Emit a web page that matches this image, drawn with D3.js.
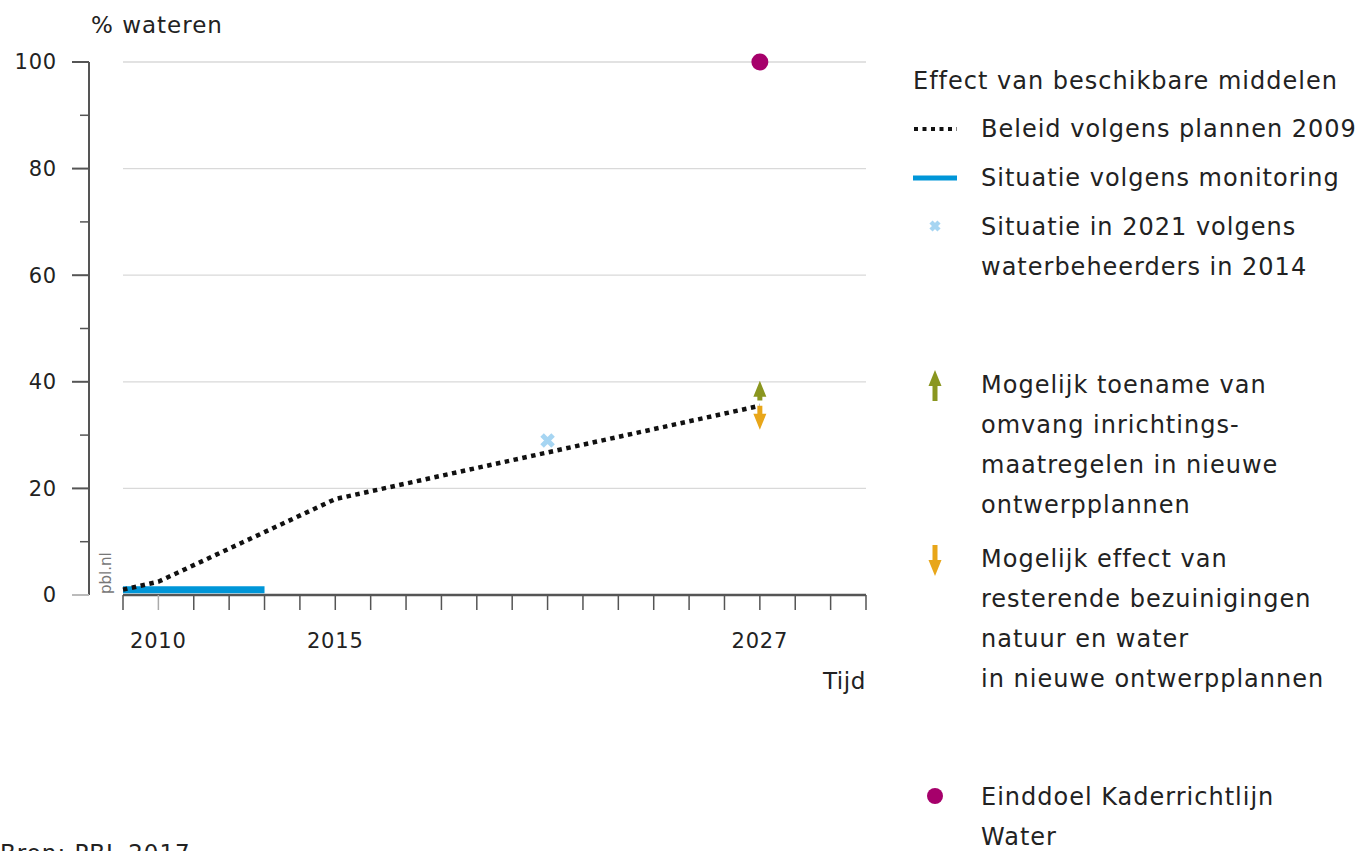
<!DOCTYPE html>
<html><head><meta charset="utf-8">
<script src="https://cdn.jsdelivr.net/npm/d3@7"></script>
<style>body{margin:0;background:#fff}svg{display:block}text{font-family:"DejaVu Sans",sans-serif;fill:#222}</style>
</head><body><svg id="c" width="1361" height="851"></svg>
<script>
// data
const policyYears = [2009, 2010, 2015, 2027];
const policyValues = [1, 2.5, 18, 35.5];
const monitorYears = [2009, 2013];
const monitorValues = [1, 1];
const managerYear = [2021];
const managerValue = [29];
const upArrow = [36.5, 40.2];      // 2027: possible increase
const downArrow = [35.5, 31];    // 2027: possible effect of cuts
const goalYear = [2027];
const goalValue = [100];
const arrowYear = 2027;
const yTicks = [0, 20, 40, 60, 80, 100];
const yMinor = [10, 30, 50, 70, 90];
const xLabelYears = [2010, 2015, 2027];
const xTickYears = d3.range(2009, 2031);
const legendTitle = "Effect van beschikbare middelen";
const legendItems = [
  {type: "dots", lines: ["Beleid volgens plannen 2009"]},
  {type: "line", lines: ["Situatie volgens monitoring"]},
  {type: "cross", lines: ["Situatie in 2021 volgens", "waterbeheerders in 2014"]},
  {type: "up", lines: ["Mogelijk toename van", "omvang inrichtings-", "maatregelen in nieuwe", "ontwerpplannen"]},
  {type: "down", lines: ["Mogelijk effect van", "resterende bezuinigingen", "natuur en water", "in nieuwe ontwerpplannen"]},
  {type: "dot", lines: ["Einddoel Kaderrichtlijn", "Water"]}
];
const legendY = [129, 178, 227, 385, 559, 797];

const C = {dots:"#111", blue:"#0096d8", cross:"#a6d5f2", green:"#8a961f", orange:"#e8a619", purple:"#a6006b", axis:"#555", grid:"#d9d9d9"};
const FS = "24px", LS = "1px";
const svg = d3.select("#c");
const x = d3.scaleLinear().domain([2009, 2030]).range([123, 866]);
const y = d3.scaleLinear().domain([0, 100]).range([595, 62]);

// grid
svg.append("g").selectAll("line").data(yTicks.filter(d=>d>0)).join("line")
  .attr("x1", 123).attr("x2", 866).attr("y1", d=>y(d)).attr("y2", d=>y(d))
  .attr("stroke", C.grid).attr("stroke-width", 1.3);

// y axis
const yg = svg.append("g");
yg.append("line").attr("x1", 89).attr("x2", 89).attr("y1", y(100)).attr("y2", y(0)).attr("stroke", C.axis).attr("stroke-width", 2);
yg.selectAll(".maj").data(yTicks).join("line").attr("x1", 72).attr("x2", 89).attr("y1", d=>y(d)).attr("y2", d=>y(d)).attr("stroke", d=>d===0?"#bbb":C.axis).attr("stroke-width", 2);
yg.selectAll(".min").data(yMinor).join("line").attr("x1", 80).attr("x2", 89).attr("y1", d=>y(d)).attr("y2", d=>y(d)).attr("stroke", C.axis).attr("stroke-width", 1.5);
yg.selectAll("text").data(yTicks).join("text").attr("x", 57).attr("y", d=>y(d)).attr("dy", "0.35em").attr("text-anchor", "end").style("font-size", "21px").style("letter-spacing", "0.8px").text(d=>d);
svg.append("text").attr("x", 91).attr("y", 33).style("font-size", "23px").style("letter-spacing", LS).text("% wateren");

// x axis
const xg = svg.append("g");
xg.append("line").attr("x1", 123).attr("x2", 866).attr("y1", 595).attr("y2", 595).attr("stroke", C.axis).attr("stroke-width", 2.5);
xg.selectAll(".t").data(xTickYears).join("line").attr("x1", d=>x(d)).attr("x2", d=>x(d)).attr("y1", 595).attr("y2", 610).attr("stroke", d=>d===2010?"#aaa":C.axis).attr("stroke-width", 1.5);
xg.selectAll("text").data(xLabelYears).join("text").attr("x", d=>x(d)).attr("y", 648).attr("text-anchor", "middle").style("font-size", "21px").style("letter-spacing", "0.8px").text(d=>d);
svg.append("text").attr("x", 866).attr("y", 689).attr("text-anchor", "end").style("font-size", "23px").style("letter-spacing", "0.6px").text("Tijd");

// watermark
svg.append("text").attr("transform", "translate(111,594) rotate(-90)").style("font-size", "15px").style("fill", "#777").text("pbl.nl");

// monitoring line
svg.append("path").datum(monitorYears.map((d,i)=>[d, monitorValues[i]]))
  .attr("d", d3.line().x(d=>x(d[0])).y(d=>y(d[1]))).attr("stroke", C.blue).attr("stroke-width", 7).attr("fill", "none");

// policy dotted line
svg.append("path").datum(policyYears.map((d,i)=>[d, policyValues[i]]))
  .attr("d", d3.line().x(d=>x(d[0])).y(d=>y(d[1]))).attr("stroke", C.dots).attr("stroke-width", 4.5).attr("stroke-dasharray", "4.5,4.5").attr("fill", "none");

function crossPath(cx, cy, s){ return `M${cx-s},${cy-s}L${cx+s},${cy+s}M${cx-s},${cy+s}L${cx+s},${cy-s}`; }
function arrowUp(g, cx, yTop, yBot, col){
  g.append("path").attr("d", `M${cx},${yTop}L${cx+6.5},${yTop+16}L${cx+2.5},${yTop+16}L${cx+2.5},${yBot}L${cx-2.5},${yBot}L${cx-2.5},${yTop+16}L${cx-6.5},${yTop+16}Z`).attr("fill", col);
}
function arrowDown(g, cx, yTop, yBot, col){
  g.append("path").attr("d", `M${cx},${yBot}L${cx+6.5},${yBot-16}L${cx+2.5},${yBot-16}L${cx+2.5},${yTop}L${cx-2.5},${yTop}L${cx-2.5},${yBot-16}L${cx-6.5},${yBot-16}Z`).attr("fill", col);
}

// manager cross
svg.append("g").selectAll("path").data(managerYear).join("path")
  .attr("d", (d,i)=>crossPath(x(d), y(managerValue[i]), 5.5)).attr("stroke", C.cross).attr("stroke-width", 5).attr("fill", "none");

// arrows
const ag = svg.append("g");
arrowDown(ag, x(arrowYear), y(downArrow[0]), y(downArrow[1]), C.orange);
arrowUp(ag, x(arrowYear), y(upArrow[1]), y(upArrow[0]), C.green);

// goal dot
svg.append("g").selectAll("circle").data(goalYear).join("circle")
  .attr("cx", d=>x(d)).attr("cy", (d,i)=>y(goalValue[i])).attr("r", 8.5).attr("fill", C.purple);

// legend
const lg = svg.append("g");
lg.append("text").attr("x", 913).attr("y", 89).style("font-size", FS).style("letter-spacing", LS).text(legendTitle);
legendItems.forEach((it, i) => {
  const cy = legendY[i];
  if (it.type === "dots") lg.append("line").attr("x1", 914).attr("x2", 957).attr("y1", cy).attr("y2", cy).attr("stroke", C.dots).attr("stroke-width", 4).attr("stroke-dasharray", "4,4.5");
  if (it.type === "line") lg.append("line").attr("x1", 913).attr("x2", 957).attr("y1", cy).attr("y2", cy).attr("stroke", C.blue).attr("stroke-width", 5);
  if (it.type === "cross") lg.append("path").attr("d", crossPath(935, cy-1, 4)).attr("stroke", C.cross).attr("stroke-width", 4.5).attr("fill", "none");
  if (it.type === "up") arrowUp(lg, 935, cy-15, cy+16, C.green);
  if (it.type === "down") arrowDown(lg, 935, cy-14, cy+17, C.orange);
  if (it.type === "dot") lg.append("circle").attr("cx", 935).attr("cy", cy-1).attr("r", 8).attr("fill", C.purple);
  it.lines.forEach((t, j) => {
    lg.append("text").attr("x", 981).attr("y", cy + j*40).attr("dy", "0.35em").style("font-size", FS).style("letter-spacing", LS).text(t);
  });
});

// source
svg.append("text").attr("x", 0).attr("y", 861).style("font-size", "23px").style("letter-spacing", LS).text("Bron: PBL 2017");
</script></body></html>
